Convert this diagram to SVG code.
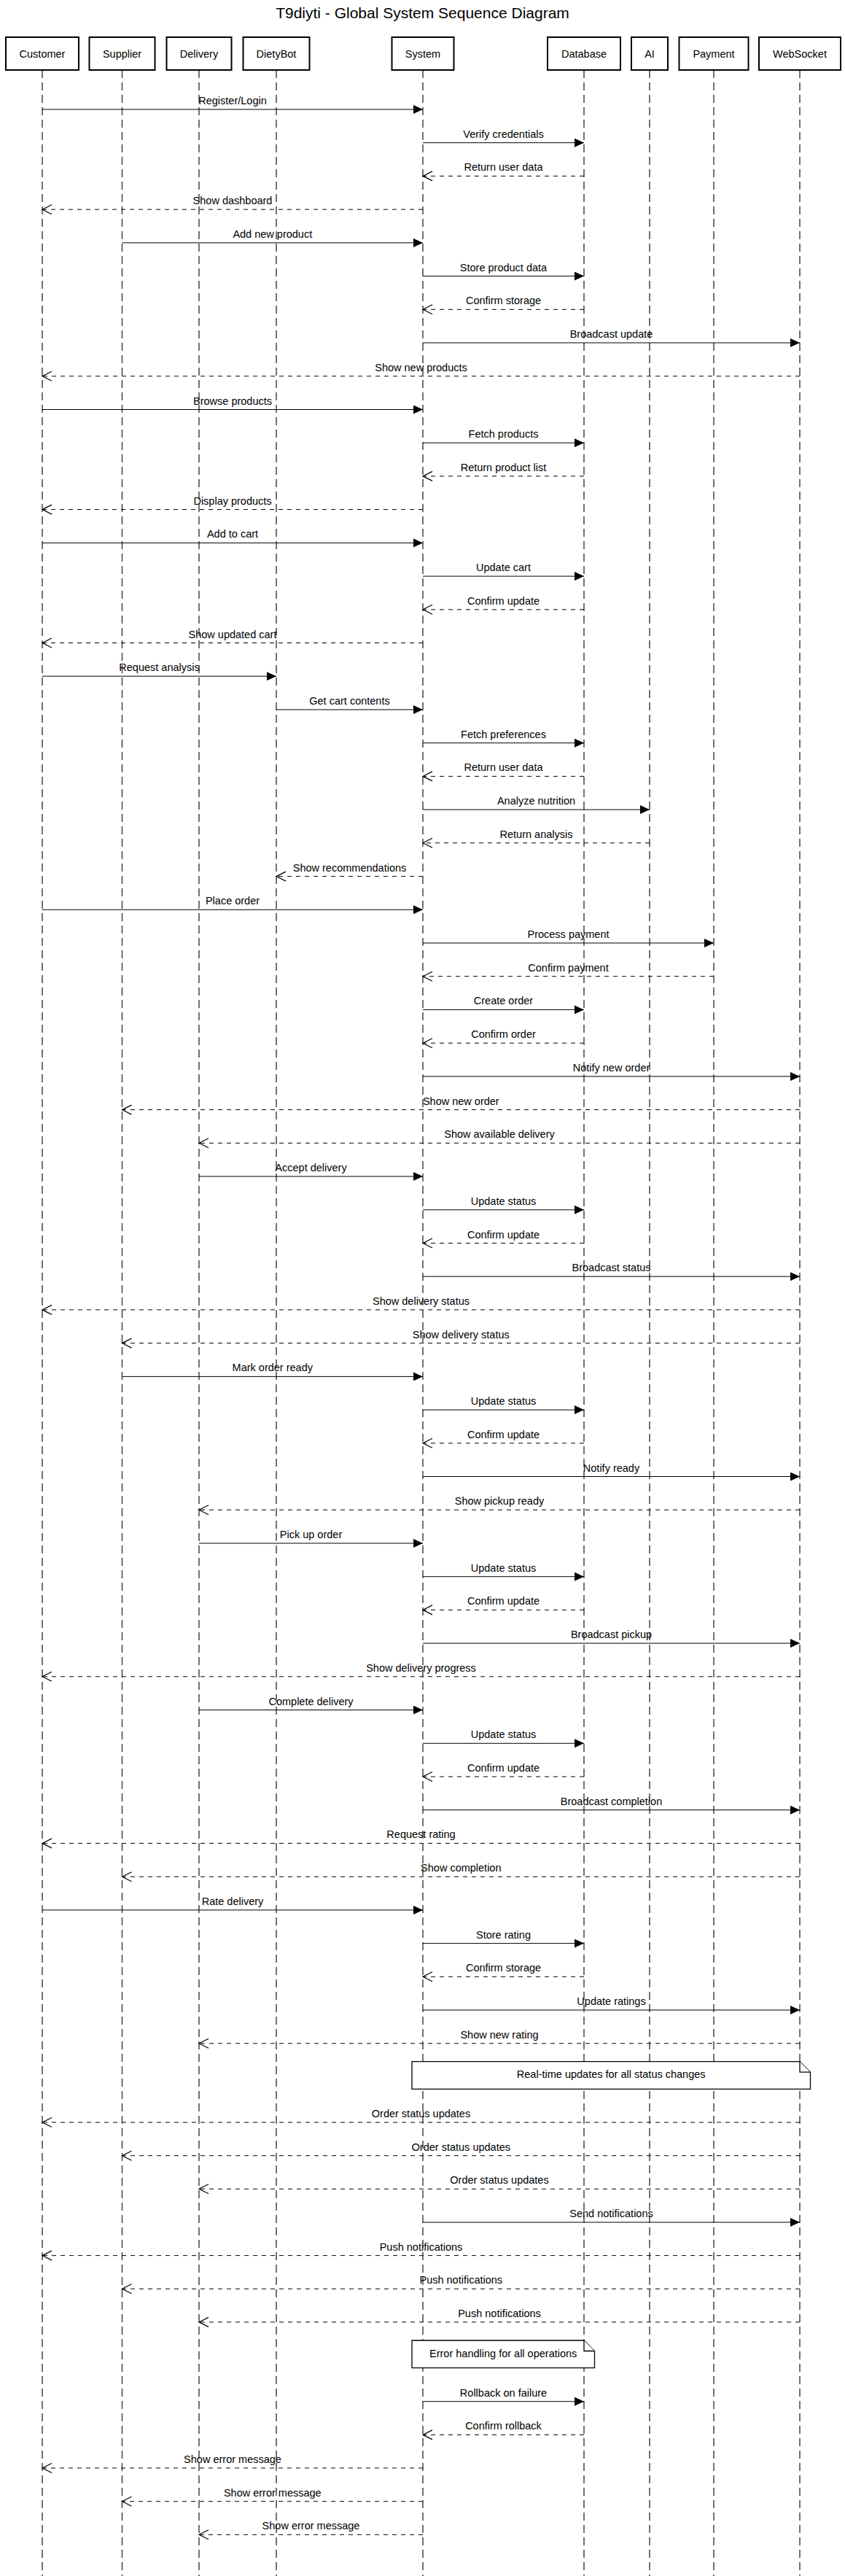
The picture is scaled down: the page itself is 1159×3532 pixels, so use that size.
<svg xmlns="http://www.w3.org/2000/svg" width="1159" height="3532" viewBox="0 0 1159 3532">
<style>
text{font-family:"Liberation Sans",Arial,sans-serif;font-size:14.5px;fill:#000}
.t{text-anchor:middle}
.title{font-size:21px}
.box{fill:#fff;stroke:#000;stroke-width:2}
.life{stroke:#444;stroke-width:1.5;stroke-dasharray:11 6;fill:none}
.m{stroke:#000;stroke-width:1;fill:none;marker-end:url(#arrF)}
.r{stroke:#000;stroke-width:1;fill:none;stroke-dasharray:6 6;marker-end:url(#arrO)}
.note{fill:#fff;stroke:#000;stroke-width:1.3}
</style>
<defs>
<marker id="arrF" markerWidth="13" markerHeight="12" refX="13" refY="6" orient="auto" markerUnits="userSpaceOnUse"><path d="M0,0 L13,6 L0,12 Z" fill="#000"/></marker>
<marker id="arrO" markerWidth="14" markerHeight="14" refX="13" refY="6.5" orient="auto" markerUnits="userSpaceOnUse" overflow="visible"><path d="M0,0 L13,6.5 L0,13" fill="none" stroke="#000" stroke-width="1.2" stroke-dasharray="none"/></marker>
</defs>
<rect width="1159" height="3532" fill="#fff"/>
<text class="t title" x="579.5" y="25">T9diyti - Global System Sequence Diagram</text>
<g id="lifelines">
<line class="life" x1="58" y1="96" x2="58" y2="3532"/>
<line class="life" x1="167.5" y1="96" x2="167.5" y2="3532"/>
<line class="life" x1="273" y1="96" x2="273" y2="3532"/>
<line class="life" x1="379" y1="96" x2="379" y2="3532"/>
<line class="life" x1="580" y1="96" x2="580" y2="3532"/>
<line class="life" x1="801" y1="96" x2="801" y2="3532"/>
<line class="life" x1="891" y1="96" x2="891" y2="3532"/>
<line class="life" x1="979" y1="96" x2="979" y2="3532"/>
<line class="life" x1="1097" y1="96" x2="1097" y2="3532"/>
</g>
<g id="customer"><rect class="box" x="8" y="51" width="100" height="45"/><text class="t" x="58" y="79">Customer</text></g>
<g id="supplier"><rect class="box" x="122.5" y="51" width="90" height="45"/><text class="t" x="167.5" y="79">Supplier</text></g>
<g id="delivery"><rect class="box" x="228.5" y="51" width="89" height="45"/><text class="t" x="273" y="79">Delivery</text></g>
<g id="dietybot"><rect class="box" x="333.5" y="51" width="91" height="45"/><text class="t" x="379" y="79">DietyBot</text></g>
<g id="system"><rect class="box" x="537.5" y="51" width="85" height="45"/><text class="t" x="580" y="79">System</text></g>
<g id="database"><rect class="box" x="751" y="51" width="100" height="45"/><text class="t" x="801" y="79">Database</text></g>
<g id="ai"><rect class="box" x="866" y="51" width="50" height="45"/><text class="t" x="891" y="79">AI</text></g>
<g id="payment"><rect class="box" x="931.5" y="51" width="95" height="45"/><text class="t" x="979" y="79">Payment</text></g>
<g id="websocket"><rect class="box" x="1041" y="51" width="112" height="45"/><text class="t" x="1097" y="79">WebSocket</text></g>
<g id="connectors">
<line class="m" x1="58" y1="150" x2="580" y2="150"/><text class="t" x="319" y="143">Register/Login</text>
<line class="m" x1="580" y1="195.7" x2="801" y2="195.7"/><text class="t" x="690.5" y="188.7">Verify credentials</text>
<line class="r" x1="801" y1="241.4" x2="580" y2="241.4"/><text class="t" x="690.5" y="234.4">Return user data</text>
<line class="r" x1="580" y1="287.2" x2="58" y2="287.2"/><text class="t" x="319" y="280.2">Show dashboard</text>
<line class="m" x1="167.5" y1="332.9" x2="580" y2="332.9"/><text class="t" x="373.8" y="325.9">Add new product</text>
<line class="m" x1="580" y1="378.6" x2="801" y2="378.6"/><text class="t" x="690.5" y="371.6">Store product data</text>
<line class="r" x1="801" y1="424.3" x2="580" y2="424.3"/><text class="t" x="690.5" y="417.3">Confirm storage</text>
<line class="m" x1="580" y1="470" x2="1097" y2="470"/><text class="t" x="838.5" y="463">Broadcast update</text>
<line class="r" x1="1097" y1="515.8" x2="58" y2="515.8"/><text class="t" x="577.5" y="508.8">Show new products</text>
<line class="m" x1="58" y1="561.5" x2="580" y2="561.5"/><text class="t" x="319" y="554.5">Browse products</text>
<line class="m" x1="580" y1="607.2" x2="801" y2="607.2"/><text class="t" x="690.5" y="600.2">Fetch products</text>
<line class="r" x1="801" y1="652.9" x2="580" y2="652.9"/><text class="t" x="690.5" y="645.9">Return product list</text>
<line class="r" x1="580" y1="698.6" x2="58" y2="698.6"/><text class="t" x="319" y="691.6">Display products</text>
<line class="m" x1="58" y1="744.4" x2="580" y2="744.4"/><text class="t" x="319" y="737.4">Add to cart</text>
<line class="m" x1="580" y1="790.1" x2="801" y2="790.1"/><text class="t" x="690.5" y="783.1">Update cart</text>
<line class="r" x1="801" y1="835.8" x2="580" y2="835.8"/><text class="t" x="690.5" y="828.8">Confirm update</text>
<line class="r" x1="580" y1="881.5" x2="58" y2="881.5"/><text class="t" x="319" y="874.5">Show updated cart</text>
<line class="m" x1="58" y1="927.2" x2="379" y2="927.2"/><text class="t" x="218.5" y="920.2">Request analysis</text>
<line class="m" x1="379" y1="973" x2="580" y2="973"/><text class="t" x="479.5" y="966">Get cart contents</text>
<line class="m" x1="580" y1="1018.7" x2="801" y2="1018.7"/><text class="t" x="690.5" y="1011.7">Fetch preferences</text>
<line class="r" x1="801" y1="1064.4" x2="580" y2="1064.4"/><text class="t" x="690.5" y="1057.4">Return user data</text>
<line class="m" x1="580" y1="1110.1" x2="891" y2="1110.1"/><text class="t" x="735.5" y="1103.1">Analyze nutrition</text>
<line class="r" x1="891" y1="1155.8" x2="580" y2="1155.8"/><text class="t" x="735.5" y="1148.8">Return analysis</text>
<line class="r" x1="580" y1="1201.6" x2="379" y2="1201.6"/><text class="t" x="479.5" y="1194.6">Show recommendations</text>
<line class="m" x1="58" y1="1247.3" x2="580" y2="1247.3"/><text class="t" x="319" y="1240.3">Place order</text>
<line class="m" x1="580" y1="1293" x2="979" y2="1293"/><text class="t" x="779.5" y="1286">Process payment</text>
<line class="r" x1="979" y1="1338.7" x2="580" y2="1338.7"/><text class="t" x="779.5" y="1331.7">Confirm payment</text>
<line class="m" x1="580" y1="1384.4" x2="801" y2="1384.4"/><text class="t" x="690.5" y="1377.4">Create order</text>
<line class="r" x1="801" y1="1430.2" x2="580" y2="1430.2"/><text class="t" x="690.5" y="1423.2">Confirm order</text>
<line class="m" x1="580" y1="1475.9" x2="1097" y2="1475.9"/><text class="t" x="838.5" y="1468.9">Notify new order</text>
<line class="r" x1="1097" y1="1521.6" x2="167.5" y2="1521.6"/><text class="t" x="632.3" y="1514.6">Show new order</text>
<line class="r" x1="1097" y1="1567.3" x2="273" y2="1567.3"/><text class="t" x="685" y="1560.3">Show available delivery</text>
<line class="m" x1="273" y1="1613" x2="580" y2="1613"/><text class="t" x="426.5" y="1606">Accept delivery</text>
<line class="m" x1="580" y1="1658.8" x2="801" y2="1658.8"/><text class="t" x="690.5" y="1651.8">Update status</text>
<line class="r" x1="801" y1="1704.5" x2="580" y2="1704.5"/><text class="t" x="690.5" y="1697.5">Confirm update</text>
<line class="m" x1="580" y1="1750.2" x2="1097" y2="1750.2"/><text class="t" x="838.5" y="1743.2">Broadcast status</text>
<line class="r" x1="1097" y1="1795.9" x2="58" y2="1795.9"/><text class="t" x="577.5" y="1788.9">Show delivery status</text>
<line class="r" x1="1097" y1="1841.6" x2="167.5" y2="1841.6"/><text class="t" x="632.3" y="1834.6">Show delivery status</text>
<line class="m" x1="167.5" y1="1887.4" x2="580" y2="1887.4"/><text class="t" x="373.8" y="1880.4">Mark order ready</text>
<line class="m" x1="580" y1="1933.1" x2="801" y2="1933.1"/><text class="t" x="690.5" y="1926.1">Update status</text>
<line class="r" x1="801" y1="1978.8" x2="580" y2="1978.8"/><text class="t" x="690.5" y="1971.8">Confirm update</text>
<line class="m" x1="580" y1="2024.5" x2="1097" y2="2024.5"/><text class="t" x="838.5" y="2017.5">Notify ready</text>
<line class="r" x1="1097" y1="2070.2" x2="273" y2="2070.2"/><text class="t" x="685" y="2063.2">Show pickup ready</text>
<line class="m" x1="273" y1="2116" x2="580" y2="2116"/><text class="t" x="426.5" y="2109">Pick up order</text>
<line class="m" x1="580" y1="2161.7" x2="801" y2="2161.7"/><text class="t" x="690.5" y="2154.7">Update status</text>
<line class="r" x1="801" y1="2207.4" x2="580" y2="2207.4"/><text class="t" x="690.5" y="2200.4">Confirm update</text>
<line class="m" x1="580" y1="2253.1" x2="1097" y2="2253.1"/><text class="t" x="838.5" y="2246.1">Broadcast pickup</text>
<line class="r" x1="1097" y1="2298.8" x2="58" y2="2298.8"/><text class="t" x="577.5" y="2291.8">Show delivery progress</text>
<line class="m" x1="273" y1="2344.6" x2="580" y2="2344.6"/><text class="t" x="426.5" y="2337.6">Complete delivery</text>
<line class="m" x1="580" y1="2390.3" x2="801" y2="2390.3"/><text class="t" x="690.5" y="2383.3">Update status</text>
<line class="r" x1="801" y1="2436" x2="580" y2="2436"/><text class="t" x="690.5" y="2429">Confirm update</text>
<line class="m" x1="580" y1="2481.7" x2="1097" y2="2481.7"/><text class="t" x="838.5" y="2474.7">Broadcast completion</text>
<line class="r" x1="1097" y1="2527.4" x2="58" y2="2527.4"/><text class="t" x="577.5" y="2520.4">Request rating</text>
<line class="r" x1="1097" y1="2573.2" x2="167.5" y2="2573.2"/><text class="t" x="632.3" y="2566.2">Show completion</text>
<line class="m" x1="58" y1="2618.9" x2="580" y2="2618.9"/><text class="t" x="319" y="2611.9">Rate delivery</text>
<line class="m" x1="580" y1="2664.6" x2="801" y2="2664.6"/><text class="t" x="690.5" y="2657.6">Store rating</text>
<line class="r" x1="801" y1="2710.3" x2="580" y2="2710.3"/><text class="t" x="690.5" y="2703.3">Confirm storage</text>
<line class="m" x1="580" y1="2756" x2="1097" y2="2756"/><text class="t" x="838.5" y="2749">Update ratings</text>
<line class="r" x1="1097" y1="2801.8" x2="273" y2="2801.8"/><text class="t" x="685" y="2794.8">Show new rating</text>
<line class="r" x1="1097" y1="2910" x2="58" y2="2910"/><text class="t" x="577.5" y="2903">Order status updates</text>
<line class="r" x1="1097" y1="2955.7" x2="167.5" y2="2955.7"/><text class="t" x="632.3" y="2948.7">Order status updates</text>
<line class="r" x1="1097" y1="3001.3" x2="273" y2="3001.3"/><text class="t" x="685" y="2994.3">Order status updates</text>
<line class="m" x1="580" y1="3047" x2="1097" y2="3047"/><text class="t" x="838.5" y="3040">Send notifications</text>
<line class="r" x1="1097" y1="3092.6" x2="58" y2="3092.6"/><text class="t" x="577.5" y="3085.6">Push notifications</text>
<line class="r" x1="1097" y1="3138.3" x2="167.5" y2="3138.3"/><text class="t" x="632.3" y="3131.3">Push notifications</text>
<line class="r" x1="1097" y1="3183.9" x2="273" y2="3183.9"/><text class="t" x="685" y="3176.9">Push notifications</text>
<line class="m" x1="580" y1="3292.7" x2="801" y2="3292.7"/><text class="t" x="690.5" y="3285.7">Rollback on failure</text>
<line class="r" x1="801" y1="3338.4" x2="580" y2="3338.4"/><text class="t" x="690.5" y="3331.4">Confirm rollback</text>
<line class="r" x1="580" y1="3384" x2="58" y2="3384"/><text class="t" x="319" y="3377">Show error message</text>
<line class="r" x1="580" y1="3429.7" x2="167.5" y2="3429.7"/><text class="t" x="373.8" y="3422.7">Show error message</text>
<line class="r" x1="580" y1="3475.3" x2="273" y2="3475.3"/><text class="t" x="426.5" y="3468.3">Show error message</text>
</g>
<g id="note-realtime">
<path class="note" d="M565,2826.7 H1097 L1111.5,2841.2 V2864.3 H565 Z"/>
<path class="note" fill="none" d="M1097,2826.7 V2841.2 H1111.5"/>
<text class="t" x="838.2" y="2849.3">Real-time updates for all status changes</text>
</g>
<g id="note-error">
<path class="note" d="M565,3209 H801 L815.5,3223.5 V3246.7 H565 Z"/>
<path class="note" fill="none" d="M801,3209 V3223.5 H815.5"/>
<text class="t" x="690.2" y="3231.7">Error handling for all operations</text>
</g>
</svg>
